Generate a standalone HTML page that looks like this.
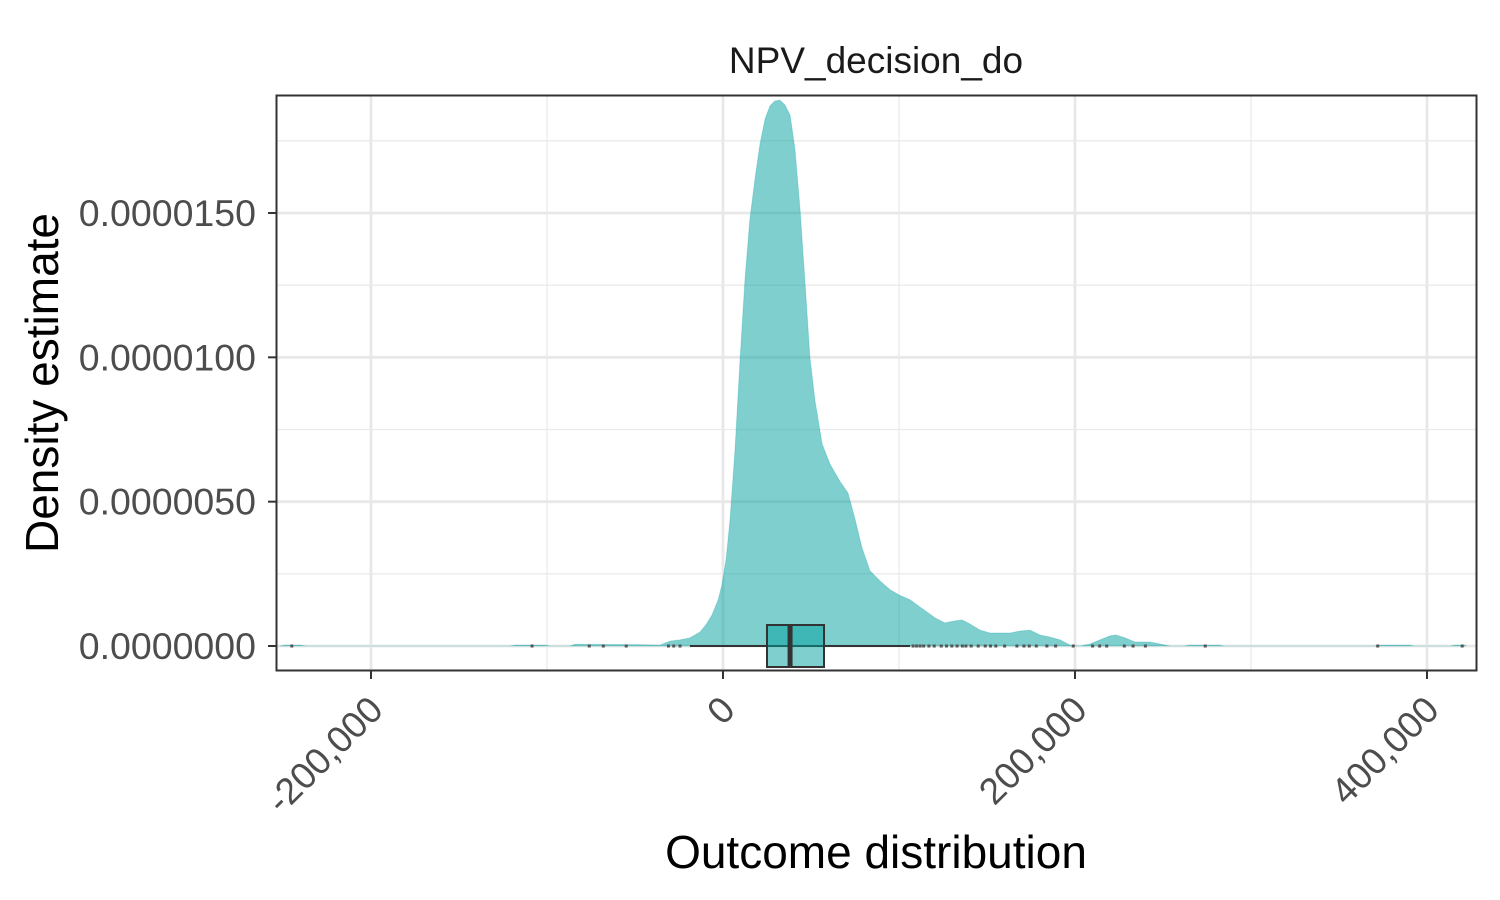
<!DOCTYPE html>
<html><head><meta charset="utf-8"><style>
body{margin:0;background:#fff;}
svg{display:block;font-family:"Liberation Sans",Arial,sans-serif;}
</style></head><body>
<svg id="chart" width="1500" height="900" viewBox="0 0 1500 900">
<rect width="1500" height="900" fill="#fff"/>
<g id="grid"></g>
<g id="marks"></g>
<rect x="276.5" y="95.5" width="1200" height="575" fill="none" stroke="#333" stroke-width="2"/>
<g id="axes"></g>
<text x="876" y="73" text-anchor="middle" font-size="37" fill="#1a1a1a">NPV_decision_do</text>
<text x="876" y="868" text-anchor="middle" font-size="46" fill="#000">Outcome distribution</text>
<text transform="translate(58,383) rotate(-90)" text-anchor="middle" font-size="46" fill="#000">Density estimate</text>
</svg>
<script>
// data (x in thousands, density in 1e-6)
const densX = [-252,-249,-240,-237,-121,-118,-101,-98,-87,-84,-52.8,-35.8,-30.1,-24.4,-18.8,-13.1,-9.7,-6.3,-2.8,-0.6,1.7,4.0,6.8,9.7,12.5,15.3,18.2,21.0,23.9,26.7,29.5,32.4,35.2,38.1,40.9,43.8,46.6,49.4,52.3,56.3,60.8,66.5,71.0,75.0,79.0,83.5,89.2,94.9,100.6,106.3,111.9,117.6,120.5,126.1,131.8,135.8,139.2,146.0,151.7,163.1,168.8,174.4,180.1,185.8,191.5,197.2,202.8,208.5,214.2,219.9,223.3,228.4,234.1,242.6,248.3,254.0,262,265,282,285,370,373,390,393,413,416,422];
const densY = [0,0.03,0.03,0,0,0.03,0.03,0,0,0.06,0.05,0.03,0.17,0.21,0.28,0.48,0.73,1.07,1.59,2.11,2.98,4.36,6.79,9.94,12.71,14.79,16.18,17.39,18.26,18.71,18.88,18.91,18.74,18.39,17.2,15.1,12.6,10.0,8.5,7.0,6.3,5.7,5.3,4.4,3.4,2.6,2.25,1.95,1.75,1.6,1.35,1.1,0.97,0.8,0.87,0.90,0.8,0.55,0.45,0.45,0.52,0.55,0.38,0.31,0.21,0.03,0.0,0.07,0.21,0.35,0.38,0.28,0.14,0.14,0.07,0,0,0.03,0.03,0,0,0.03,0.03,0,0,0.03,0.03];
const boxStats = [-18.8, 25.0, 38.1, 57.4, 106.3]; // whiskerLow, q1, median, q3, whiskerHigh
const outliers = [-245,-108.5,-76,-68,-55,-31,-28,-24.4,108,110,112,114,117,120,124,127,130,133,136,138,141,145,149,152,155,160,167,171,174,178,184,189,199,210,214,218,228,233,240,274,372,420];
const xTicks = [-200,0,200,400];
const xTickLabels = ["-200,000","0","200,000","400,000"];
const xMinor = [-100,100,300];
const yTicks = [0,5,10,15];
const yTickLabels = ["0.0000000","0.0000050","0.0000100","0.0000150"];
const yMinor = [2.5,7.5,12.5,17.5];

const NS="http://www.w3.org/2000/svg";
const xs = v => 723 + (v/200)*352;
const ys = v => 646 - v*(433/15);
function mk(tag, attrs, parent){const e=document.createElementNS(NS,tag);for(const k in attrs)e.setAttribute(k,attrs[k]);parent.appendChild(e);return e;}
const grid=document.getElementById('grid'), marks=document.getElementById('marks'), axes=document.getElementById('axes');

xMinor.forEach(v=>{const l=mk('line',{x1:xs(v),x2:xs(v),y1:96,y2:670,stroke:'#ebebeb','stroke-width':1.3},grid);

});
yMinor.forEach(v=>{const l=mk('line',{x1:277,x2:1476,y1:ys(v),y2:ys(v),stroke:'#ebebeb','stroke-width':1.3},grid);

});
xTicks.forEach(v=>{const l=mk('line',{x1:xs(v),x2:xs(v),y1:96,y2:670,stroke:'#e8e8e8','stroke-width':2.8},grid);

});
yTicks.forEach(v=>{const l=mk('line',{x1:277,x2:1476,y1:ys(v),y2:ys(v),stroke:'#e8e8e8','stroke-width':2.8},grid);

});

let d='M'+xs(densX[0])+','+ys(0);
densX.forEach((x,i)=>{d+=' L'+xs(x).toFixed(1)+','+ys(densY[i]).toFixed(1);});
d+=' L'+xs(densX[densX.length-1])+','+ys(0)+' Z';
const area=mk('path',{d:d,fill:'#00a0a0','fill-opacity':0.5,stroke:'#00a0a0','stroke-opacity':0.25,'stroke-width':1},marks);



outliers.forEach(v=>{const r=mk('rect',{x:xs(v)-1.5,y:644.5,width:3,height:3,fill:'#555'},marks);

});

const wl=mk('line',{x1:xs(boxStats[0]),x2:xs(boxStats[4]),y1:646,y2:646,stroke:'#333','stroke-width':2},marks);


const bx=mk('rect',{x:xs(boxStats[1]),y:625,width:xs(boxStats[3])-xs(boxStats[1]),height:42,fill:'#00a0a0','fill-opacity':0.5,stroke:'#333','stroke-width':2},marks);


const md=mk('line',{x1:xs(boxStats[2]),x2:xs(boxStats[2]),y1:625,y2:667,stroke:'#333','stroke-width':5},marks);



xTicks.forEach((v,i)=>{
 const t=mk('line',{x1:xs(v),x2:xs(v),y1:671,y2:679,stroke:'#333','stroke-width':2},axes);
 
 
 const tx=mk('text',{transform:'translate('+(xs(v)+14)+',712) rotate(-45)','text-anchor':'end','font-size':37,fill:'#4d4d4d'},axes);
 tx.textContent=xTickLabels[i];
 
 
});
yTicks.forEach((v,i)=>{
 const t=mk('line',{x1:268,x2:276,y1:ys(v),y2:ys(v),stroke:'#333','stroke-width':2},axes);
 
 
 const tx=mk('text',{x:256,y:ys(v)+13,'text-anchor':'end','font-size':37.5,fill:'#4d4d4d'},axes);
 tx.textContent=yTickLabels[i];
 
 
});
</script>
</body></html>
